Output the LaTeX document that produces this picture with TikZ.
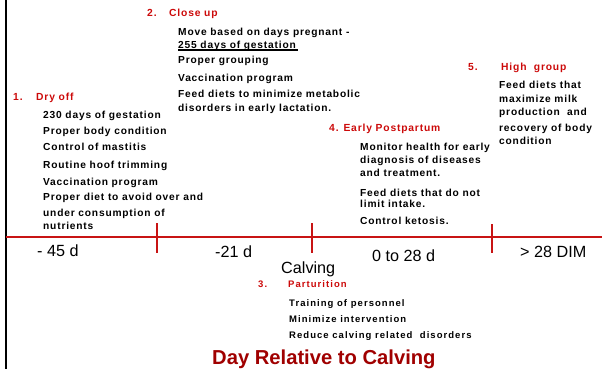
\documentclass[tikz,border=0pt]{standalone}
\usepackage{fontspec}
\setmainfont{Liberation Sans}
\newfontfamily\spacedfont[LetterSpace=8]{Liberation Sans}
\newfontfamily\widefont[LetterSpace=11]{Liberation Sans}
\usepackage{tikz}
\definecolor{headred}{RGB}{204,10,10}
\definecolor{titlered}{RGB}{160,0,0}
\definecolor{axisred}{RGB}{200,20,20}

\begin{document}
\begin{tikzpicture}[x=1pt,y=-1pt,
  head/.style={anchor=base west,inner sep=0pt,text=headred,font=\spacedfont\bfseries\fontsize{10.3}{12}\selectfont},
  item/.style={anchor=base west,inner sep=0pt,font=\spacedfont\bfseries\fontsize{10.2}{12}\selectfont},
  smallhead/.style={head,font=\widefont\bfseries\fontsize{9.5}{11}\selectfont},
  smallitem/.style={item,font=\widefont\bfseries\fontsize{9.5}{11}\selectfont},
  daylabel/.style={anchor=base west,inner sep=0pt,font=\fontsize{16.2}{19}\selectfont}]
 \useasboundingbox (0,0) rectangle (602,369);

 % frame and time axis
 \coordinate (frameT) at (6,0);
 \coordinate (frameB) at (6,369);
 \draw[line width=2.5] (frameT) -- (frameB);
 \coordinate (axisL) at (6,237);
 \coordinate (axisR) at (602,237);
 \draw[axisred,line width=1.5] (axisL) -- (axisR);
 \coordinate (tA1) at (157,223); \coordinate (tA2) at (157,253);
 \coordinate (tB1) at (312,223); \coordinate (tB2) at (312,253);
 \coordinate (tC1) at (492,224); \coordinate (tC2) at (492,253);
 \draw[axisred,line width=1.5] (tA1) -- (tA2);
 \draw[axisred,line width=1.5] (tB1) -- (tB2);
 \draw[axisred,line width=1.5] (tC1) -- (tC2);

 \node[daylabel] (d45) at (37,256) {- 45 d};
 \node[daylabel] (d21) at (215,257) {-21 d};
 \node[daylabel] (calving) at (281,273) {Calving};
 \node[daylabel] (d0) at (372,261) {0 to 28 d};
 \node[daylabel] (dim) at (520,257) {> 28 DIM};

 % 1. dry off
 \node[head] (n1) at (13,100.5) {1.};
 \node[head] (dryoff) at (36,100.5) {Dry off};
 \node[item] (dry1) at (43,118.5) {230 days of gestation};
 \node[item] (dry2) at (43,134.5) {Proper body condition};
 \node[item] (dry3) at (43,150.5) {Control of mastitis};
 \node[item] (dry4) at (43,168.5) {Routine hoof trimming};
 \node[item] (dry5) at (43,185.5) {Vaccination program};
 \node[item] (dry6) at (43,200.5) {Proper diet to avoid over and};
 \node[item] (dry7) at (43,216.5) {under consumption of};
 \node[item] (dry8) at (43,229.5) {nutrients};

 % 2. close up
 \node[head] (n2) at (147,16.5) {2.};
 \node[head] (closeup) at (169,16.5) {Close up};
 \node[item] (cu1) at (178,35.5) {Move based on days pregnant -};
 \node[item] (cu2) at (178,48.5) {255 days of gestation};
 \coordinate (ulL) at (178,50);
 \coordinate (ulR) at (298,50);
 \draw[line width=1.5] (ulL) -- (ulR);
 \node[item] (cu3) at (178,63.5) {Proper grouping};
 \node[item] (cu4) at (178,81.5) {Vaccination program};
 \node[item] (cu5) at (178,97.5) {Feed diets to minimize metabolic};
 \node[item] (cu6) at (178,111.5) {disorders in early lactation.};

 % 3. parturition
 \node[smallhead] (n3) at (258,287.3) {3.};
 \node[smallhead] (partur) at (288,287.3) {Parturition};
 \node[smallitem] (pa1) at (289,306.3) {Training of personnel};
 \node[smallitem] (pa2) at (289,322.3) {Minimize intervention};
 \node[smallitem] (pa3) at (289,338.3) {Reduce calving related\ \ disorders};

 % 4. early postpartum
 \node[head] (earlypp) at (329,131.5) {4. Early Postpartum};
 \node[item] (ep1) at (360,150.5) {Monitor health for early};
 \node[item] (ep2) at (360,163.5) {diagnosis of diseases};
 \node[item] (ep3) at (360,176.5) {and treatment.};
 \node[item] (ep4) at (360,196.5) {Feed diets that do not};
 \node[item] (ep5) at (360,207.5) {limit intake.};
 \node[item] (ep6) at (360,224.5) {Control ketosis.};

 % 5. high group
 \node[head] (n5) at (468,70.5) {5.};
 \node[head] (highgrp) at (501,70.5) {High\ \ group};
 \node[item] (hg1) at (499,88.5) {Feed diets that};
 \node[item] (hg2) at (499,102.5) {maximize milk};
 \node[item] (hg3) at (499,115.5) {production\ \ and};
 \node[item] (hg4) at (499,131.5) {recovery of body};
 \node[item] (hg5) at (499,144.5) {condition};

 \node[anchor=base west,inner sep=0pt,text=titlered,font=\bfseries\fontsize{20.2}{23}\selectfont] (title) at (212,364) {Day Relative to Calving};
\end{tikzpicture}
\end{document}
